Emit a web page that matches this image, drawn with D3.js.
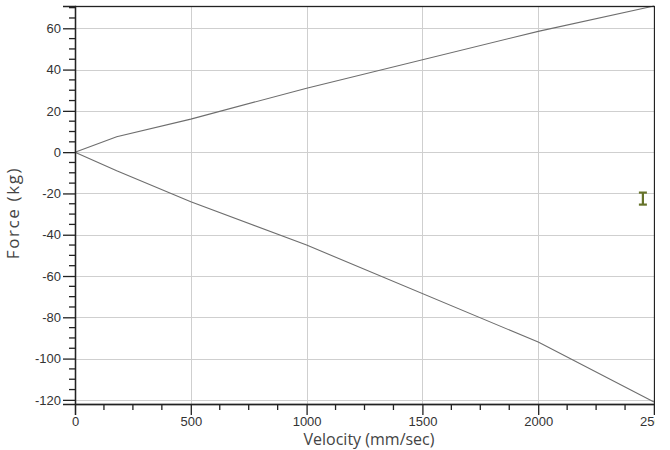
<!DOCTYPE html>
<html>
<head>
<meta charset="utf-8">
<script src="https://cdn.jsdelivr.net/npm/d3@7"></script>
<style>
  body { margin: 0; background: #fff; }
  svg { display: block; font-family: "Open Sans", "Noto Sans", sans-serif; }
</style>
</head>
<body>
<svg id="chart" width="655" height="450"></svg>
<script>
// data
const velocity = [0, 180, 500, 1000, 2000, 2500];
const forceUpper = [0, 7.5, 16, 31, 58.5, 70.8];
const forceLower = [0, -9, -24, -45, -92, -121];
const xTicks = [0, 500, 1000, 1500, 2000, 2500];
const yTicks = [60, 40, 20, 0, -20, -40, -60, -80, -100, -120];
const marker = { x: 2452, y: -22.5 };

const svg = d3.select("#chart");
const plotL = 75, plotR = 654, plotT = 6, plotB = 404;

const x = d3.scaleLinear().domain([0, 2500]).range([plotL, plotR]);
const y = d3.scaleLinear().domain([-122, 70.8]).range([plotB, plotT]);

// grid
const grid = svg.append("g").attr("stroke", "#cfcfcf").attr("stroke-width", 1);
grid.selectAll("line.h")
  .data(yTicks)
  .join("line")
  .attr("class", "h")
  .attr("x1", plotL).attr("x2", plotR)
  .attr("y1", d => Math.round(y(d)) + 0.5)
  .attr("y2", d => Math.round(y(d)) + 0.5);
grid.selectAll("line.v")
  .data(xTicks.slice(1, -1))
  .join("line")
  .attr("class", "v")
  .attr("y1", plotT).attr("y2", plotB)
  .attr("x1", d => Math.round(x(d)) + 0.5)
  .attr("x2", d => Math.round(x(d)) + 0.5);

// curves
const line = d3.line().x((d, i) => x(velocity[i])).y(d => y(d));
[forceUpper, forceLower].forEach(s => {
  svg.append("path")
    .attr("d", line(s))
    .attr("fill", "none")
    .attr("stroke", "#6e6e6e")
    .attr("stroke-width", 1.1);
});

// frame
svg.append("rect")
  .attr("x", plotL + 0.5).attr("y", plotT + 0.5)
  .attr("width", plotR - plotL).attr("height", plotB - plotT)
  .attr("fill", "none").attr("stroke", "#222").attr("stroke-width", 1.3);

// axes
const xAxis = d3.axisBottom(x).tickValues(xTicks).tickSize(11).tickPadding(2)
  .tickFormat(d => String(d));
const gx = svg.append("g").attr("transform", `translate(0,${plotB})`).call(xAxis);
gx.append("g").selectAll("line")
  .data(d3.range(0, 2501, 125).filter(v => v % 500 !== 0))
  .join("line")
  .attr("x1", d => x(d)).attr("x2", d => x(d))
  .attr("y1", 0).attr("y2", 6)
  .attr("stroke", "#222").attr("stroke-width", 1.3);

const yAxis = d3.axisLeft(y).tickValues(yTicks).tickSize(12).tickPadding(2)
  .tickFormat(d => String(d));
const gy = svg.append("g").attr("transform", `translate(${plotL},0)`).call(yAxis);
gy.append("g").selectAll("line")
  .data(d3.range(-120, 71, 5).filter(v => v % 20 !== 0))
  .join("line")
  .attr("y1", d => y(d)).attr("y2", d => y(d))
  .attr("x1", 0).attr("x2", -6)
  .attr("stroke", "#222").attr("stroke-width", 1.3);

[gx, gy].forEach(g => {
  g.select(".domain").attr("stroke", "#222").attr("stroke-width", 1.3);
  g.selectAll(".tick line").attr("stroke", "#222").attr("stroke-width", 1.3);
  g.selectAll(".tick text").attr("fill", "#333").style("font-size", "13px");
});

// axis titles
svg.append("text")
  .attr("x", 369).attr("y", 445)
  .attr("text-anchor", "middle")
  .attr("fill", "#444").style("font-size", "16px")
  .text("Velocity (mm/sec)");
svg.append("text")
  .attr("transform", "translate(19,213) rotate(-90)")
  .attr("text-anchor", "middle")
  .attr("fill", "#444").style("font-size", "17px")
  .style("letter-spacing", "1.6px")
  .text("Force (kg)");

// small cursor marker
const mk = svg.append("g")
  .attr("transform", `translate(${x(marker.x)},${y(marker.y)})`)
  .attr("stroke", "#66732a").attr("stroke-width", 2.2);
mk.append("line").attr("x1", 0).attr("x2", 0).attr("y1", -6).attr("y2", 6);
mk.append("line").attr("x1", -4).attr("x2", 4).attr("y1", -6).attr("y2", -6);
mk.append("line").attr("x1", -4).attr("x2", 4).attr("y1", 6).attr("y2", 6);
</script>
</body>
</html>
